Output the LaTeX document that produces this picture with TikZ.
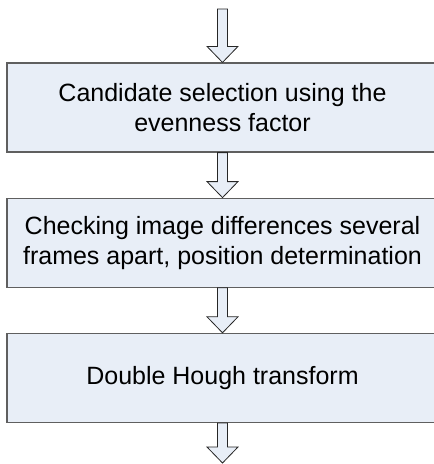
\documentclass[tikz,border=0pt]{standalone}
\usepackage{fontspec}
\setmainfont{Liberation Sans}
\usetikzlibrary{positioning,calc}
\definecolor{boxfill}{RGB}{232,238,247}
\definecolor{boxline}{RGB}{95,95,95}
\tikzset{
  stage/.style={draw=boxline,line width=1.2pt,fill=boxfill,minimum width=431pt,minimum height=89pt,align=center,inner sep=0pt,font=\fontsize{25}{30}\selectfont},
  flowarr/.style={draw=black!85,fill=boxfill,line width=0.8pt,line join=miter}
}
\newcommand{\blockarrow}[2]{%
  \path[flowarr] let \p1=(#1), \p2=(#2) in
    (\x1-5pt,\y1) -- (\x1+5pt,\y1) -- (\x1+5pt,\y2+16pt) -- (\x1+15.5pt,\y2+16pt)
    -- (\x1,\y2) -- (\x1-15.5pt,\y2+16pt) -- (\x1-5pt,\y2+16pt) -- cycle;}

\begin{document}
\begin{tikzpicture}[x=1pt,y=1pt]
\useasboundingbox (0,0) rectangle (434,-464);
\clip (0,0) rectangle (434,-464);
\node[stage] (s1) at (222.5,-107.5) {Candidate selection using the\\evenness factor};
\node[stage,below=45pt of s1] (s2) {Checking image differences several\\frames apart, position determination};
\node[stage,below=45pt of s2] (s3) {Double Hough transform};
\coordinate (start) at (222.5,-9);
\coordinate (finish) at (222.5,-463);
\blockarrow{start}{s1.north}
\blockarrow{s1.south}{s2.north}
\blockarrow{s2.south}{s3.north}
\blockarrow{s3.south}{finish}
\end{tikzpicture}
\end{document}
